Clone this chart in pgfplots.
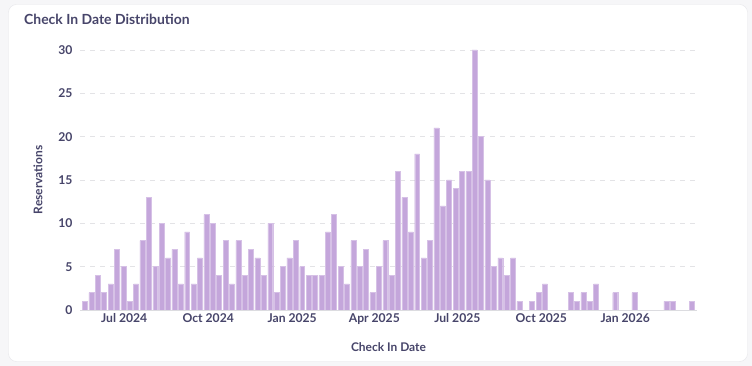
\documentclass[border=0pt]{standalone}
\usepackage{fontspec}
\setmainfont{Lato}
\usepackage{pgfplots}
\pgfplotsset{compat=1.18}
\definecolor{barc}{HTML}{C4A6DB}
\definecolor{txt}{HTML}{47456A}
\definecolor{gridc}{HTML}{E3E3E6}
\definecolor{basec}{HTML}{DCDCE0}
\definecolor{bgc}{HTML}{F6F6F8}
\definecolor{cardb}{HTML}{E6E6EA}
\begin{document}
\begin{tikzpicture}
\fill[bgc] (0bp,0bp) rectangle (752bp,366bp);
\filldraw[fill=white,draw=cardb,rounded corners=8bp] (8.5bp,4.5bp) rectangle (747.5bp,361.5bp);
\node[anchor=base west,inner sep=0,font=\bfseries\fontsize{14}{16}\selectfont,text=txt] at (24bp,341bp) {Check In Date Distribution};
\begin{axis}[
  at={(80bp,56bp)}, anchor=south west,
  scale only axis, width=617bp, height=260bp,
  xmin=-0.78, xmax=95.8, ymin=0, ymax=30,
  ybar, bar width=0.78,
  axis line style={draw=none},
  major tick length=0,
  ytick={5,10,15,20,25,30},
  extra y ticks={0},
  extra y tick style={grid style={solid,draw=basec,line width=0.8bp}},
  ymajorgrids,
  grid style={dashed,draw=gridc,line width=0.8bp,dash pattern=on 5bp off 5bp},
  xtick={6.14,19.29,32.43,45.29,58.29,71.43,84.57},
  xticklabels={Jul 2024,Oct 2024,Jan 2025,Apr 2025,Jul 2025,Oct 2025,Jan 2026},
  /pgf/number format/assume math mode=true,
  tick label style={font=\bfseries\fontsize{12.2}{14}\selectfont,text=txt},
  yticklabel style={xshift=-4bp},
  label style={font=\bfseries\fontsize{12}{14}\selectfont,text=txt},
  xlabel={Check In Date},
  ylabel={Reservations},
  xlabel style={yshift=-11bp},
  ylabel style={yshift=9bp},
]
\addplot[fill=barc,draw=barc!70!white,line width=0.4bp] coordinates {
(0,1) (1,2) (2,4) (3,2) (4,3) (5,7) (6,5) (7,1) (8,3) (9,8)
(10,13) (11,5) (12,10) (13,6) (14,7) (15,3) (16,9) (17,3) (18,6) (19,11)
(20,10) (21,4) (22,8) (23,3) (24,8) (25,4) (26,7) (27,6) (28,4) (29,10)
(30,2) (31,5) (32,6) (33,8) (34,5) (35,4) (36,4) (37,4) (38,9) (39,11)
(40,5) (41,3) (42,8) (43,5) (44,7) (45,2) (46,5) (47,8) (48,4) (49,16)
(50,13) (51,9) (52,18) (53,6) (54,8) (55,21) (56,12) (57,15) (58,14) (59,16)
(60,16) (61,30) (62,20) (63,15) (64,5) (65,6) (66,4) (67,6) (68,1)
(70,1) (71,2) (72,3) (76,2) (77,1) (78,2) (79,1) (80,3) (83,2) (86,2)
(91,1) (92,1) (95,1)
};
\end{axis}
\end{tikzpicture}
\end{document}
